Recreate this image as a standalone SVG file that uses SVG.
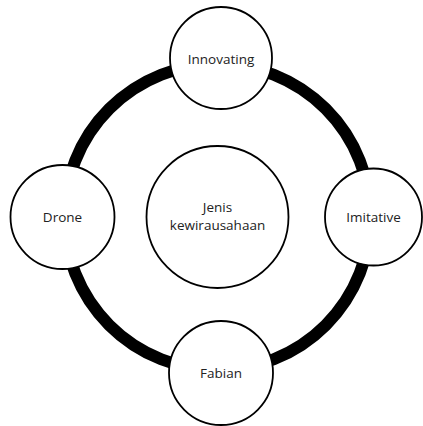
<svg xmlns="http://www.w3.org/2000/svg" width="423" height="426" viewBox="0 0 423 426">
<style>
.node{fill:#fff;stroke:#000;stroke-width:1.8}
.lbl{font-family:"Open Sans","Liberation Sans",sans-serif;font-size:13.5px;fill:#222;text-anchor:middle}
</style>
<rect width="423" height="426" fill="#fff"/>
<g id="connectors">
<circle cx="217.5" cy="217" r="153" fill="none" stroke="#000" stroke-width="12"/>
</g>
<g id="center">
<circle class="node" cx="217.5" cy="217" r="71"/>
<text class="lbl" x="217.5" y="212">Jenis</text>
<text class="lbl" x="217.5" y="230">kewirausahaan</text>
</g>
<g id="innovating">
<circle class="node" cx="221" cy="58" r="51"/>
<text class="lbl" x="221" y="64">Innovating</text>
</g>
<g id="drone">
<circle class="node" cx="62.5" cy="217" r="52"/>
<text class="lbl" x="62.5" y="222">Drone</text>
</g>
<g id="imitative">
<circle class="node" cx="373.5" cy="217" r="48.5"/>
<text class="lbl" x="373.5" y="222">Imitative</text>
</g>
<g id="fabian">
<circle class="node" cx="221" cy="373" r="52"/>
<text class="lbl" x="221" y="378">Fabian</text>
</g>
</svg>
